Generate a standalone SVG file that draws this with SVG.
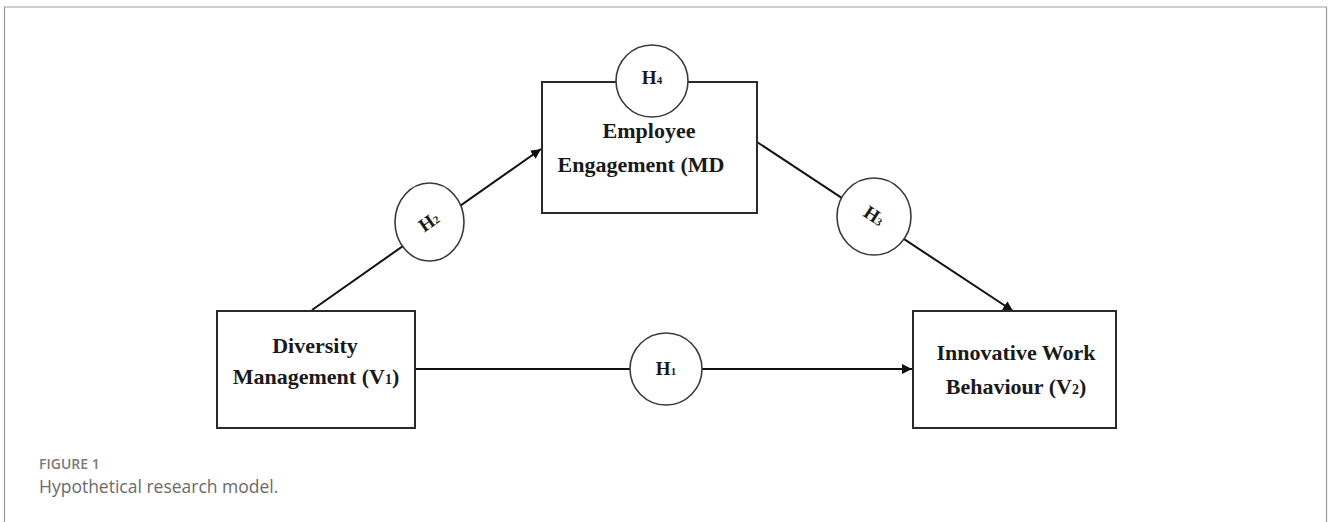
<svg xmlns="http://www.w3.org/2000/svg" width="1328" height="522" viewBox="0 0 1328 522">
<style>
.box{fill:#fff;stroke:#2a2a2a;stroke-width:2}
.hc{fill:#fff;stroke:#3a3a3a;stroke-width:1.6}
.lbl{font-family:"Liberation Serif","Times New Roman",serif;font-weight:bold;font-size:22px;fill:#1a1a1a;text-anchor:middle}
.hl{font-family:"Liberation Serif","Times New Roman",serif;font-weight:bold;font-size:19px;fill:#1a1a1a;text-anchor:middle}
.conn{stroke:#111;stroke-width:2;fill:none}
.cap1{font-family:"Open Sans","Noto Sans",sans-serif;font-weight:600;font-size:14px;fill:#7a7a7a}
.cap2{font-family:"Open Sans","Noto Sans",sans-serif;font-size:17.5px;fill:#6a6a6a}
</style>
<defs>
<marker id="arr" viewBox="0 0 10 10" refX="10" refY="5" markerWidth="10" markerHeight="10" markerUnits="userSpaceOnUse" orient="auto">
<path d="M0,0 L10,5 L0,10 Z" fill="#111"/>
</marker>
</defs>
<rect width="1328" height="522" fill="#fff"/>
<g id="frame">
<line x1="4" y1="7" x2="1327" y2="7" stroke="#bdbdbd" stroke-width="1.6"/>
<line x1="4.5" y1="7" x2="4.5" y2="522" stroke="#9a9a9a" stroke-width="1.2"/>
<line x1="1326.5" y1="7" x2="1326.5" y2="522" stroke="#9a9a9a" stroke-width="1.2"/>
</g>
<g id="connectors">
<line class="conn" x1="312" y1="310" x2="541" y2="149" marker-end="url(#arr)"/>
<line class="conn" x1="757" y1="142" x2="1013" y2="311" marker-end="url(#arr)"/>
<line class="conn" x1="415" y1="369" x2="912" y2="369" marker-end="url(#arr)"/>
</g>
<g id="diversity">
<rect class="box" x="217" y="311" width="198" height="117"/>
<text class="lbl" x="315" y="353">Diversity</text>
<text class="lbl" x="316" y="384">Management (V<tspan font-size="14">1</tspan>)</text>
</g>
<g id="employee">
<rect class="box" x="542" y="82" width="215" height="131"/>
<text class="lbl" x="649" y="138">Employee</text>
<text class="lbl" x="641" y="172">Engagement (MD</text>
</g>
<g id="innovative">
<rect class="box" x="913" y="311" width="203" height="117"/>
<text class="lbl" x="1016" y="360">Innovative Work</text>
<text class="lbl" x="1016" y="394">Behaviour (V<tspan font-size="14">2</tspan>)</text>
</g>
<g id="h4">
<circle class="hc" cx="652" cy="81" r="36"/>
<text class="hl" x="652" y="84">H<tspan font-size="11">4</tspan></text>
</g>
<g id="h2">
<ellipse class="hc" cx="429.5" cy="222" rx="34.5" ry="39"/>
<text class="hl" x="429" y="228" transform="rotate(-35 429 222)">H<tspan font-size="11">2</tspan></text>
</g>
<g id="h3">
<ellipse class="hc" cx="874" cy="216.5" rx="37" ry="38.5"/>
<text class="hl" x="874" y="222" transform="rotate(33 874 216)">H<tspan font-size="11">3</tspan></text>
</g>
<g id="h1">
<circle class="hc" cx="666" cy="369" r="36"/>
<text class="hl" x="666" y="375">H<tspan font-size="11">1</tspan></text>
</g>
<g id="caption">
<text class="cap1" x="39" y="469">FIGURE 1</text>
<text class="cap2" x="39" y="493">Hypothetical research model.</text>
</g>
</svg>
